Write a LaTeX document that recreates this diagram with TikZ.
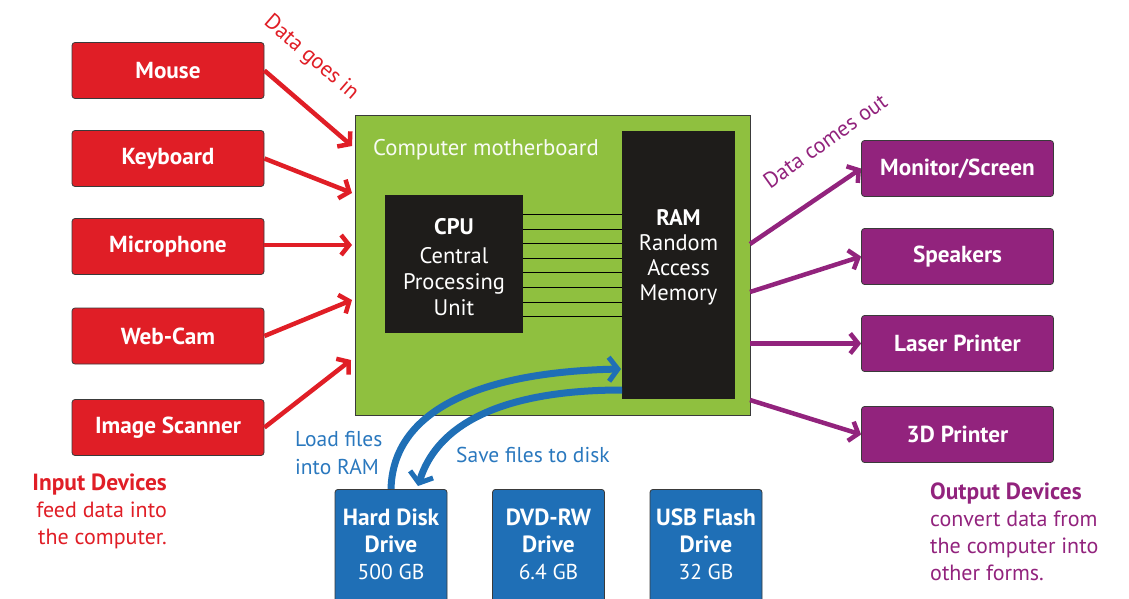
\documentclass[tikz,border=0pt]{standalone}
\usepackage{fontspec}
\setmainfont{PT Sans}
\usetikzlibrary{arrows.meta}

\definecolor{inred}{HTML}{E01E26}
\definecolor{outpurple}{HTML}{92237D}
\definecolor{boardgreen}{HTML}{8FC03F}
\definecolor{diskblue}{HTML}{1F6FB6}
\definecolor{disktext}{HTML}{2A78BE}
\definecolor{chipblack}{HTML}{1E1C1A}
\definecolor{edgegray}{HTML}{3A3A3A}

\newcommand{\boldbig}{\fontsize{23.4}{26}\selectfont\bfseries}

\tikzset{
  devbox/.style={draw=edgegray, line width=0.8pt, rounded corners=3pt,
    minimum width=192pt, minimum height=56pt, text=white,
    font=\fontsize{23.2}{26}\selectfont\bfseries},
  inbox/.style={devbox, fill=inred},
  outbox/.style={devbox, fill=outpurple},
  drivebox/.style={draw=edgegray, line width=0.8pt, rounded corners=3pt,
    fill=diskblue, minimum width=112pt, minimum height=140pt, anchor=north},
  drivetext/.style={text=white, align=center, anchor=north, inner sep=0pt,
    font=\fontsize{21.5}{27}\selectfont},
  chip/.style={fill=chipblack, text=white, align=center, inner sep=0pt,
    font=\fontsize{22.5}{26}\selectfont},
  bus/.style={draw=black, line width=0.7pt},
  inarrow/.style={draw=inred, line width=4.5pt,
    -{Straight Barb[length=8pt,width=20pt,line width=4.5pt]}},
  outarrow/.style={draw=outpurple, line width=4.5pt,
    -{Straight Barb[length=8pt,width=20pt,line width=4.5pt]}},
  diskarrow/.style={draw=diskblue, line width=7pt,
    -{Straight Barb[length=9pt,width=24pt,line width=5pt]}},
  caption/.style={inner sep=0pt, font=\fontsize{22}{27}\selectfont}
}

\begin{document}
\begin{tikzpicture}[x=1pt, y=-1pt]
\useasboundingbox (0,0) rectangle (1129,599);

% motherboard with CPU and RAM
\node[draw=edgegray, line width=0.8pt, fill=boardgreen, minimum width=395pt,
  minimum height=300pt, anchor=north west, inner sep=0pt] (mb) at (355,115) {};
\node[anchor=west, inner sep=0pt, text=white!94!boardgreen,
  font=\fontsize{22.7}{26}\selectfont] (mblabel) at (373,150) {Computer motherboard};
\node[chip, minimum width=138pt, minimum height=138pt] (cpu) at (454,264) {};
\node[chip, anchor=north] (cputext) at (454,218)
  {{\bfseries CPU}\\[3pt]Central\\Processing\\Unit};
\node[chip, minimum width=113pt, minimum height=268pt] (ram) at (678.5,265) {};
\node[chip, anchor=north, font=\fontsize{22.5}{25}\selectfont] (ramtext) at (678.5,209)
  {{\bfseries RAM}\\Random\\Access\\Memory};

% data bus between CPU and RAM
\foreach \yy in {214.3,228.9,243.5,258.1,272.7,287.3,301.9,316.5}
  \draw[bus] (cpu.east |- 0,\yy) -- (ram.west |- 0,\yy);

% input devices
\node[inbox] (mouse) at (168,70.5) {Mouse};
\node[inbox] (keyboard) at (168,158.5) {Keyboard};
\node[inbox] (mic) at (168,246.5) {Microphone};
\node[inbox] (webcam) at (168,336) {Web-Cam};
\node[inbox] (scanner) at (168,427.5) {Image Scanner};

\coordinate (in1) at (352,146);
\coordinate (in2) at (352,193);
\coordinate (in3) at (352,245);
\coordinate (in4) at (352,300);
\coordinate (in5) at (351,360);
\draw[inarrow] (mouse.east) -- (in1);
\draw[inarrow] (keyboard.east) -- (in2);
\draw[inarrow] (mic.east |- in3) -- (in3);
\draw[inarrow] (webcam.east) -- (in4);
\draw[inarrow] (scanner.east) -- (in5);

\node[caption, text=inred, rotate=-41] (goesin) at (311,58) {Data goes in};

\node[caption, text=inred, align=right, anchor=north east] (inlabel) at (167,474)
  {{\boldbig Input Devices}\\feed data into\\the computer.};

% output devices
\node[outbox] (monitor) at (957.5,168.5) {Monitor/Screen};
\node[outbox] (speakers) at (957.5,256.5) {Speakers};
\node[outbox] (laser) at (957.5,343.5) {Laser Printer};
\node[outbox] (printer3d) at (957.5,434.5) {3D Printer};

\coordinate (out1) at (750,244);
\coordinate (out2) at (750,292);
\coordinate (out3) at (750,343.5);
\coordinate (out4) at (750,400);
\draw[outarrow] (out1) -- (monitor.west);
\draw[outarrow] (out2) -- (speakers.west);
\draw[outarrow] (out3) -- (laser.west);
\draw[outarrow] (out4) -- (printer3d.west);

\node[caption, text=outpurple, rotate=35.5] (comesout) at (825,141) {Data comes out};

\node[caption, text=outpurple, align=left, anchor=north west] (outlabel) at (930,483)
  {{\boldbig Output Devices}\\convert data from\\the computer into\\other forms.};

% storage drives
\node[drivebox] (hdd) at (391,489) {};
\node[drivebox] (dvd) at (548.5,489) {};
\node[drivebox] (usb) at (706,489) {};
\node[drivetext] (hddtext) at (391,509) {{\boldbig Hard Disk}\\{\boldbig Drive}\\500 GB};
\node[drivetext] (dvdtext) at (548.5,509) {{\boldbig DVD-RW}\\{\boldbig Drive}\\6.4 GB};
\node[drivetext] (usbtext) at (706,509) {{\boldbig USB Flash}\\{\boldbig Drive}\\32 GB};

% loading from and saving to disk
\coordinate (ramin) at (621,369);
\coordinate (ramout) at (622,390);
\coordinate (hddin) at (418,486);
\draw[diskarrow] (hdd.north) .. controls (393,410) and (480,372) .. (ramin);
\draw[diskarrow] (ramout) .. controls (520,390) and (440,415) .. (hddin);

\node[caption, text=disktext, align=left, anchor=north west,
  font=\fontsize{21.5}{28}\selectfont] (loadlabel) at (295,431)
  {Load files\\into RAM};
\node[caption, text=disktext, anchor=west, font=\fontsize{21.5}{28}\selectfont]
  (savelabel) at (456,455) {Save files to disk};
\end{tikzpicture}
\end{document}
